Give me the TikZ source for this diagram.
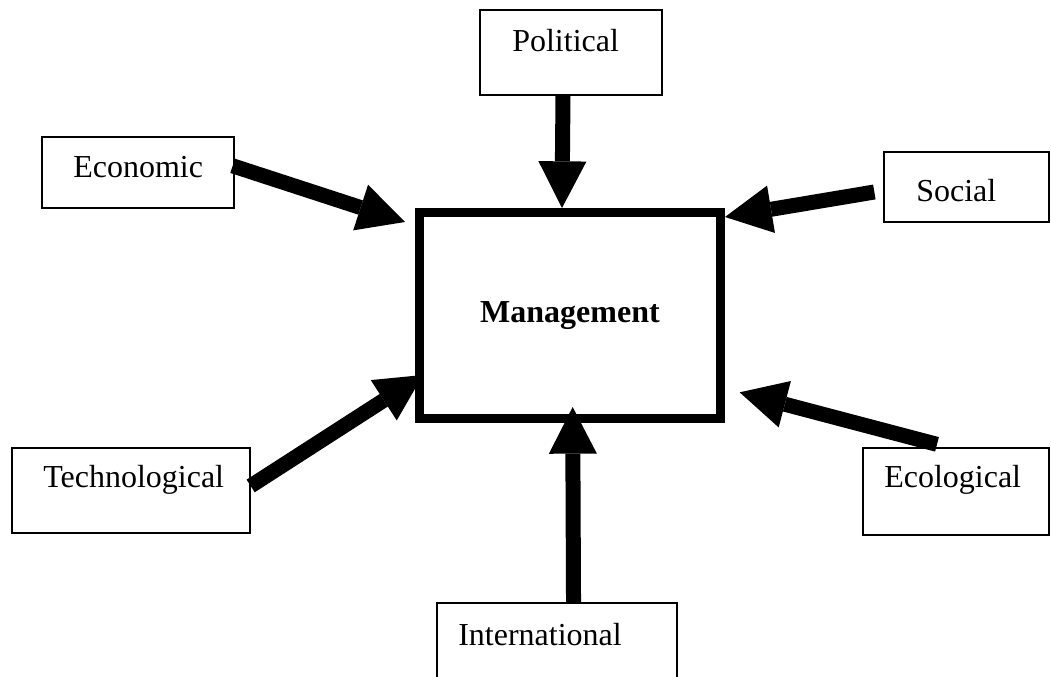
\documentclass[tikz,border=0pt]{standalone}
\usepackage{fontspec}
\setmainfont{Liberation Serif}
\usetikzlibrary{arrows.meta}

\begin{document}
\begin{tikzpicture}[x=0.75pt, y=-0.75pt,
              factorBox/.style={
                draw, line width=1pt, inner sep=0pt
             },
              factorText/.style={
                anchor=base west, inner sep=0pt, font=\fontsize{24}{28}\selectfont
             },
              mgmtBlock/.style={
                draw, line width=6.75pt, minimum width=225.75pt, minimum height=154.5pt,
                font=\bfseries\fontsize{24}{28}\selectfont
             },
              pushArrow/.style={
                line width=11.25pt, -{Triangle[length=35pt, width=36pt, line width=0pt]}
             } ]
              \useasboundingbox (0,0) rectangle (1051,677);
              \clip (0,0) rectangle (1051,677);
              % the six outside factors
              \node[factorBox, minimum width=136.5pt, minimum height=63.75pt](pol) at (571,52.5){};
              \node[factorText](polText) at (512,52){Political};
              \node[factorBox, minimum width=144pt, minimum height=53.25pt](eco) at (138,172.5){};
              \node[factorText](ecoText) at (73,178){Economic};
              \node[factorBox, minimum width=123.75pt, minimum height=52.5pt](soc) at (966.5,187){};
              \node[factorText](socText) at (916,202){Social};
              \node[factorBox, minimum width=178.5pt, minimum height=63.75pt](tec) at (131,490.5){};
              \node[factorText](tecText) at (43,488){Technological};
              \node[factorBox, minimum width=139.5pt, minimum height=65.25pt](ecl) at (956,491.5){};
              \node[factorText](eclText) at (884,488){Ecological};
              \node[factorBox, minimum width=180pt, minimum height=67.5pt](int) at (557,648){};
              \node[factorText](intText) at (458,645){International};
              % centre
              \node[mgmtBlock](mgmt) at (570,315.5){Management};
              % arrows
              \draw[pushArrow] ([xshift=-6pt]pol.south) -- ([xshift=-6pt]mgmt.north);
              \draw[pushArrow] ([xshift=-1.5pt, yshift=5pt]eco.east) -- ([xshift=-7.5pt, yshift=-10.5pt]mgmt.north west);
              \draw[pushArrow] ([xshift=-6.75pt, yshift=-3.75pt]soc.west) -- ([yshift=-6.75pt]mgmt.north east);
              \draw[pushArrow] ([yshift=3.4pt]tec.east) -- ([xshift=6pt, yshift=36pt]mgmt.south west);
              \draw[pushArrow] ([xshift=-14.25pt, yshift=2.25pt]ecl.north) -- ([xshift=11pt, yshift=23pt]mgmt.south east);
              \draw[pushArrow] ([xshift=12.4pt]int.north) -- ([xshift=2pt, yshift=12pt]mgmt.south);
            \end{tikzpicture}
\end{document}
